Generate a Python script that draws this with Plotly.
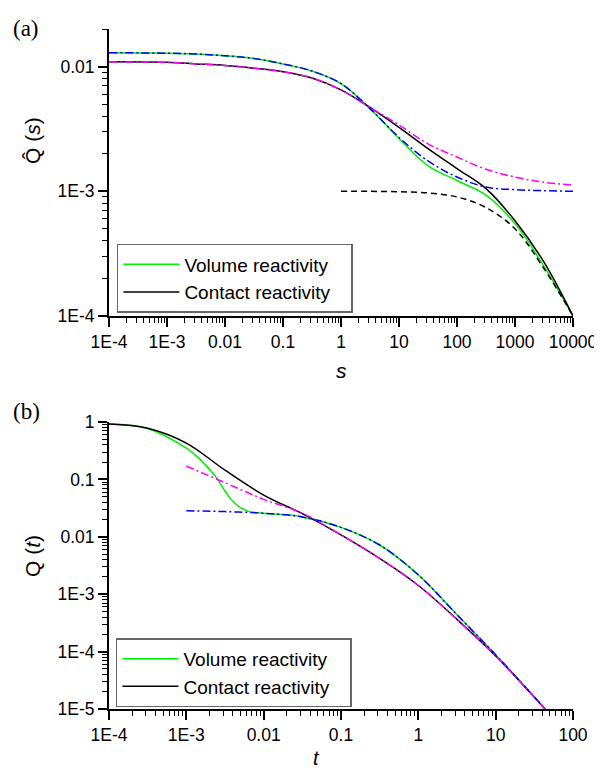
import math
import plotly.graph_objects as go

# ---- panel (a): Laplace-domain curves Q^(s) ----
s_vol = [1e-4, 1e-3, 3.16e-3, 0.01, 0.0316, 0.1, 0.316, 1, 3.16, 10, 31.6, 100, 316, 1000, 3160, 10000]
q_vol = [0.0129, 0.0128, 0.0126, 0.0122, 0.0116, 0.0105, 0.0092, 0.0073, 0.0046, 0.00265,
         0.0016, 0.00122, 0.00093, 0.00055, 0.00025, 0.0001]

s_vol_as = [1e-4, 1e-3, 3.16e-3, 0.01, 0.0316, 0.1, 0.316, 1, 3.16, 10, 31.6, 100, 316, 1000, 3160, 10000]
q_vol_as = [0.0129, 0.0128, 0.0126, 0.0122, 0.0116, 0.0105, 0.0092, 0.0073, 0.0046, 0.0027,
            0.00175, 0.0013, 0.00108, 0.00103, 0.00101, 0.001]

s_con = [1e-4, 1e-3, 3.16e-3, 0.01, 0.0316, 0.1, 0.316, 1, 3.16, 10, 31.6, 100, 316, 1000, 3160, 10000]
q_con = [0.0109, 0.0108, 0.0105, 0.0102, 0.0097, 0.0091, 0.0081, 0.0065, 0.0047, 0.00325,
         0.0022, 0.00152, 0.00105, 0.00058, 0.00027, 0.0001]

s_con_as = [1e-4, 1e-3, 3.16e-3, 0.01, 0.0316, 0.1, 0.316, 1, 3.16, 10, 31.6, 100, 316, 1000, 3160, 10000]
q_con_as = [0.0109, 0.0108, 0.0105, 0.0102, 0.0097, 0.0091, 0.0081, 0.0065, 0.0047, 0.0034,
            0.0024, 0.00188, 0.0015, 0.0013, 0.00118, 0.00112]

s_tail = [1, 3.16, 10, 31.6, 100, 316, 1000, 3160, 10000]
q_tail = [0.001, 0.000998, 0.00099, 0.00097, 0.0009, 0.00074, 0.0005, 0.00024, 0.0001]

# ---- panel (b): time-domain curves Q(t) ----
t_vol = [1e-4, 3.16e-4, 1e-3, 1.46e-3, 2.4e-3, 3.2e-3, 4.36e-3, 6.5e-3, 0.01, 0.0316, 0.1, 0.316,
         1, 3.16, 10, 20, 43.6]
q_vol_t = [0.92, 0.77, 0.35, 0.233, 0.111, 0.061, 0.037, 0.0275, 0.0258, 0.0222, 0.0146, 0.0072,
           0.00217, 0.00044, 8.8e-5, 3.2e-5, 1e-5]

t_vol_as = [1e-3, 3.16e-3, 0.01, 0.0316, 0.1, 0.316, 1, 3.16, 10, 20, 43.6]
q_vol_as_t = [0.0285, 0.0275, 0.0258, 0.0222, 0.0146, 0.0072, 0.00217, 0.00044, 8.8e-5, 3.2e-5, 1e-5]

t_con = [1e-4, 3.16e-4, 1e-3, 3.16e-3, 0.01, 0.0316, 0.1, 0.316, 1, 3.16, 10, 20, 43.6]
q_con_t = [0.92, 0.78, 0.43, 0.145, 0.0534, 0.0253, 0.0108, 0.0042, 0.00142, 0.000365,
           8.4e-5, 3.15e-5, 1e-5]

t_con_as = [1e-3, 3.16e-3, 0.01, 0.0316, 0.1, 0.316, 1, 3.16, 10, 20, 43.6]
q_con_as_t = [0.171, 0.0877, 0.045, 0.0258, 0.0108, 0.0042, 0.00142, 0.000365, 8.4e-5, 3.15e-5, 1e-5]

sx_vals = [1e-4, 1e-3, 0.01, 0.1, 1, 10, 100, 1000, 10000]
sx_text = ["1E-4", "1E-3", "0.01", "0.1", "1", "10", "100", "1000", "10000"]
sy_vals = [1e-4, 1e-3, 0.01]
sy_text = ["1E-4", "1E-3", "0.01"]
tx_vals = [1e-4, 1e-3, 0.01, 0.1, 1, 10, 100]
tx_text = ["1E-4", "1E-3", "0.01", "0.1", "1", "10", "100"]
ty_vals = [1e-5, 1e-4, 1e-3, 0.01, 0.1, 1]
ty_text = ["1E-5", "1E-4", "1E-3", "0.01", "0.1", "1"]

GREEN = "#00ee00"
BLUE = "#0000ff"
MAGENTA = "#ff00ff"
DASHDOT = "8px,3px,2px,3px"
LW = 1.5
PAD = "\u00a0\u00a0\u00a0"

fig = go.Figure()

def add(x, y, color, dash, xa, ya, name=None, legend="legend"):
    fig.add_trace(go.Scatter(
        x=x, y=y, mode="lines", name=name, showlegend=name is not None, legend=legend,
        line=dict(color=color, width=LW, dash=dash, shape="spline", smoothing=1.0),
        xaxis=xa, yaxis=ya, hoverinfo="skip"))

# panel (a)
add(s_vol, q_vol, GREEN, "solid", "x", "y", "Volume reactivity" + PAD)
add(s_con, q_con, "black", "solid", "x", "y", "Contact reactivity" + PAD)
add(s_vol_as, q_vol_as, BLUE, DASHDOT, "x", "y")
add(s_con_as, q_con_as, MAGENTA, DASHDOT, "x", "y")
add(s_tail, q_tail, "black", "6px,4px", "x", "y")

# panel (b)
add(t_vol, q_vol_t, GREEN, "solid", "x2", "y2", "Volume reactivity" + PAD, "legend2")
add(t_con, q_con_t, "black", "solid", "x2", "y2", "Contact reactivity" + PAD, "legend2")
add(t_vol_as, q_vol_as_t, BLUE, DASHDOT, "x2", "y2")
add(t_con_as, q_con_as_t, MAGENTA, DASHDOT, "x2", "y2")

SANS = "Arial, Liberation Sans, sans-serif"
TICKFONT = dict(family=SANS, size=17.5, color="black")

def axis(rng, vals, text, **kw):
    d = dict(type="log", range=rng, tickvals=vals, ticktext=text, tickfont=TICKFONT,
             showline=True, linecolor="black", linewidth=2, ticks="outside", ticklen=9,
             tickwidth=1.6, tickcolor="black", showgrid=False, zeroline=False,
             minor=dict(ticks="outside", ticklen=5, tickwidth=1.3, tickcolor="black",
                        dtick="D1", showgrid=False))
    d.update(kw)
    return d

# the page body adds an 8px offset, so margins are shifted to keep the plot area in place
legend_style = dict(xanchor="left", yanchor="top", bgcolor="white", bordercolor="#666666",
                    borderwidth=1.5, itemwidth=56, font=dict(size=19, family=SANS))
fig.update_layout(
    width=602, height=774,
    margin=dict(l=101, r=37, t=21, b=73),
    paper_bgcolor="white", plot_bgcolor="white",
    font=dict(family=SANS, color="black"),
    xaxis=axis([-4, 4], sx_vals, sx_text, domain=[0, 1], anchor="y"),
    yaxis=axis([-4, math.log10(0.02)], sy_vals, sy_text, domain=[0.578, 1], anchor="x"),
    xaxis2=axis([-4, 2], tx_vals, tx_text, domain=[0, 1], anchor="y2"),
    yaxis2=axis([-5, 0], ty_vals, ty_text, domain=[0, 0.422], anchor="x2"),
    legend=dict(legend_style, x=0.017, y=0.684),
    legend2=dict(legend_style, x=0.015, y=0.104),
)

def px(xp):
    return (xp - 109) / 464.0

def py(yp):
    return (709 - yp) / 680.0

serif = dict(family="Liberation Serif, Times New Roman, serif", size=23, color="black")
sans = dict(family=SANS, size=21, color="black")
notes = [
    dict(text="(a)", x=px(26), y=py(28), font=serif),
    dict(text="(b)", x=px(26), y=py(411), font=serif),
    dict(text="<i>s</i>", x=px(341), y=py(370), font=dict(sans, size=21)),
    dict(text="<i>t</i>", x=px(316), y=py(758), font=dict(sans, size=20)),
    dict(text="Q\u0302 (<i>s</i>)", x=px(32), y=py(141), textangle=-90, font=sans),
    dict(text="Q (<i>t</i>)", x=px(32), y=py(556), textangle=-90, font=sans),
]
for n in notes:
    fig.add_annotation(xref="paper", yref="paper", showarrow=False,
                       xanchor="center", yanchor="middle", **n)

fig.write_html("out.html")
